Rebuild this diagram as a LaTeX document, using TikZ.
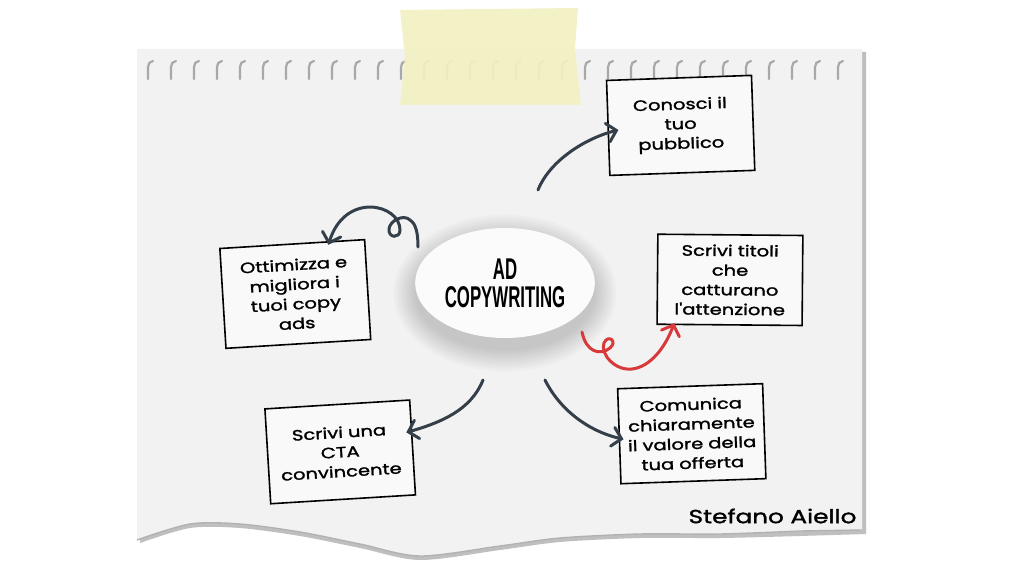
\documentclass[tikz,border=0pt]{standalone}
\usepackage{fontspec}
\setmainfont{Poppins}
\newfontfamily\handfont[FakeStretch=1.3, FakeBold=1.6]{Poppins}
\newfontfamily\headfont[FakeStretch=0.56]{Liberation Sans}
\usetikzlibrary{positioning,arrows.meta,shapes.geometric}
\definecolor{ink}{HTML}{343F4A}
\definecolor{redink}{HTML}{D8393B}
\definecolor{paper}{HTML}{F2F2F2}
\definecolor{tape}{HTML}{F3F0C2}
\definecolor{holegray}{HTML}{A8A8A8}
\newdimen\nodeDist
\nodeDist=236pt

\begin{document}
\begin{tikzpicture}[x=1pt, y=1pt,
  box/.style={draw, line width=1.6pt, fill=white!55!paper, minimum width=145pt,
    minimum height=95pt, text width=140pt, align=center, inner sep=2pt,
    font=\handfont\fontsize{15}{19.6}\selectfont},
  core/.style={ellipse, fill=white!70!paper, minimum width=176pt, minimum height=110pt,
    align=center, font=\headfont\bfseries\fontsize{30}{28}\selectfont},
  link/.style={draw=ink, line width=3pt, line cap=round,
    -{Straight Barb[length=9pt, width=19pt, line cap=round]}},
  redlink/.style={link, draw=redink}]

  \useasboundingbox (0,0) rectangle (1024,576);
  \fill[white] (0,0) rectangle (1024,576);

  % sheet of paper
  \fill[black!25] (140,524) -- (866,524) -- (866,42)
    -- plot[smooth] coordinates {(800,40) (720,38) (640,38) (560,34) (500,26) (420,16) (360,28) (300,40) (240,48) (190,48) (140,33)} -- cycle;
  \fill[paper] (137,527) -- (862,527) -- (862,46)
    -- plot[smooth] coordinates {(800,45) (720,42) (640,42) (560,38) (500,30) (420,20) (360,32) (300,44) (240,52) (190,52) (137,36)} -- cycle;
  \draw[black!30, line width=1.4pt]
    (862,46) -- plot[smooth] coordinates {(800,45) (720,42) (640,42) (560,38) (500,30) (420,20) (360,32) (300,44) (240,52) (190,52) (137,36)};

  % spiral holes
  \foreach \x in {148,171,...,850}
    \draw[holegray, line width=2.2pt, line cap=round] (\x,497) -- (\x,509) to[out=90, in=180] (\x+5,515);

  % tape
  \fill[tape, opacity=0.92] (400,566) -- (578,568) -- (575,528) -- (581,471) -- (400,471) -- (405,520) -- cycle;

  % centre
  \foreach \i in {1,...,9}
    \fill[black, opacity=0.02] (505,283) ellipse ({88+2.6*\i} and {55+2.6*\i});
  \node[core] (core) at (505,293) {AD\\COPYWRITING};

  \path (core) ++(41.9:\nodeDist) node[box, rotate=2] (know) {Conosci il\\tuo\\pubblico};
  \path (core) ++(0.8:225pt) node[box, rotate=-0.5, minimum height=90pt] (title) {Scrivi titoli\\che\\catturano\\l'attenzione};
  \path (core) ++(-38.9:240pt) node[box, rotate=2] (value) {Comunica\\chiaramente\\il valore della\\tua offerta};
  \path (core) ++(-134.3:\nodeDist) node[box, rotate=3.5] (cta) {Scrivi una\\CTA\\convincente};
  \path (core) ++(183:210pt) node[box, rotate=3.5, minimum height=100pt] (optim) {Ottimizza e\\migliora i\\tuoi copy\\ads};

  \draw[link] ([shift={(33,93)}]core.center) .. controls +(12,30) and +(-32,-8) .. ([shift={(11,-2)}]know.west);
  \draw[link] ([shift={(-87,36)}]core.center) .. controls +(0,14) and +(6,-4) .. (410,356)
    .. controls (404,362) and (390,356) .. (389,347)
    .. controls (388,338) and (400,337) .. (400,346)
    .. controls (400,372) and (345,385) .. ([shift={(-37,-6)}]optim.north east);
  \draw[redlink] ([shift={(77,-49)}]core.center) .. controls +(4,-20) and +(-10,-8) .. (610,228)
    .. controls (618,235) and (608,242) .. (604,233)
    .. controls (600,222) and (615,205) .. (632,207)
    .. controls (650,209) and (665,228) .. ([shift={(18,2)}]title.south west);
  \draw[link] ([shift={(-22,-97)}]core.center) .. controls +(-12,-30) and +(35,10) .. ([shift={(-7,15)}]cta.east);
  \draw[link] ([shift={(40,-97)}]core.center) .. controls +(15,-30) and +(-35,8) .. ([shift={(5,-3)}]value.west);

  \node[anchor=east, font=\handfont\fontsize{19}{19}\selectfont] (sign) at (860,60) {Stefano Aiello};
\end{tikzpicture}
\end{document}
